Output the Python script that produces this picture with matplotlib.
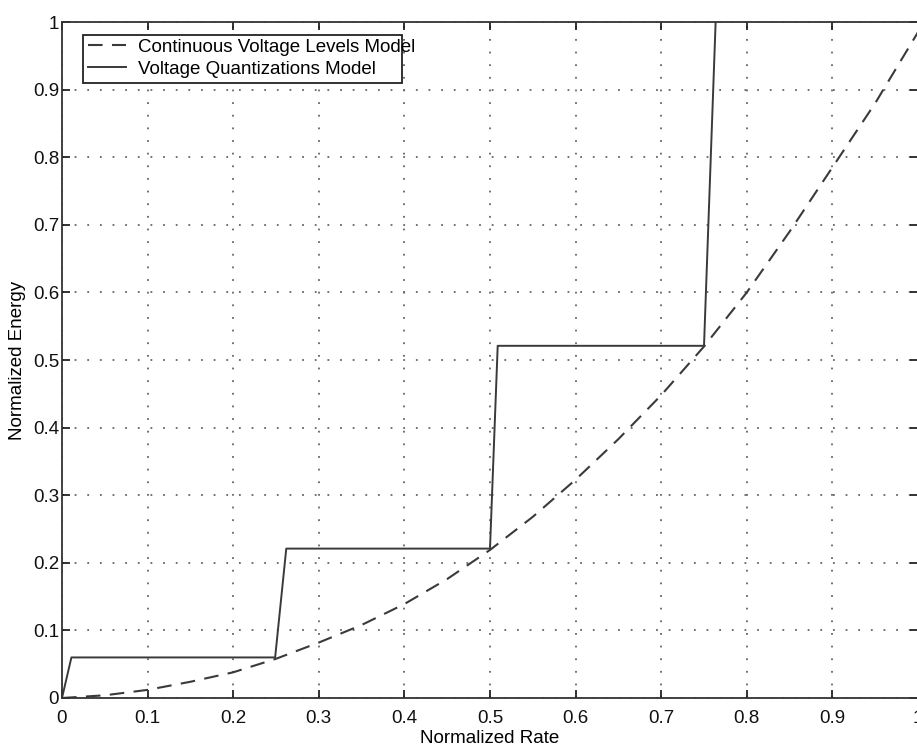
import matplotlib
matplotlib.use("Agg")
import matplotlib.pyplot as plt
from matplotlib.ticker import FuncFormatter
from matplotlib.patches import Rectangle

plt.rcParams['font.family'] = ['Liberation Sans', 'DejaVu Sans']

# Continuous voltage levels model (dashed curve)
rate_cont = [0, 0.05, 0.1, 0.15, 0.2, 0.25, 0.3, 0.35, 0.4, 0.45, 0.5,
             0.55, 0.6, 0.65, 0.7, 0.75, 0.8, 0.85, 0.9, 0.95, 1.0]
energy_cont = [0, 0.004, 0.012, 0.024, 0.038, 0.058, 0.082, 0.108, 0.139, 0.176, 0.219,
               0.268, 0.323, 0.383, 0.448, 0.52, 0.60, 0.69, 0.785, 0.88, 0.985]

# Voltage quantizations model (solid staircase)
rate_quant = [0, 0.011, 0.249, 0.262, 0.500, 0.509, 0.750, 0.765]
energy_quant = [0, 0.06, 0.06, 0.221, 0.221, 0.521, 0.521, 1.05]

x_ticks = [0, 0.1, 0.2, 0.3, 0.4, 0.5, 0.6, 0.7, 0.8, 0.9, 1.0]
y_ticks = [0, 0.1, 0.2, 0.3, 0.4, 0.5, 0.6, 0.7, 0.8, 0.9, 1.0]

fig = plt.figure(figsize=(9.17, 7.49), dpi=100)
ax = fig.add_axes([0.0676, 0.0681, 0.9335, 0.9025])

line_color = '#3a3a3a'
ax.plot(rate_cont, energy_cont, linestyle=(0, (7, 4.5)), color=line_color, linewidth=1.5,
        label='Continuous Voltage Levels Model')
ax.plot(rate_quant, energy_quant, linestyle='-', color=line_color, linewidth=1.4,
        label='Voltage Quantizations Model')

ax.set_xlim(0, 1)
ax.set_ylim(0, 1)
ax.set_xticks(x_ticks)
ax.set_yticks(y_ticks)
fmt = FuncFormatter(lambda v, p: '%g' % round(v, 2))
ax.xaxis.set_major_formatter(fmt)
ax.yaxis.set_major_formatter(fmt)

ax.grid(True, linestyle=(0, (1, 6)), color='#666666', linewidth=1.3)
ax.tick_params(direction='in', top=True, right=True, length=6, width=1.2,
               labelsize=13.5, colors='#111111')
ax.tick_params(axis='x', pad=9)
ax.tick_params(axis='y', pad=2)
for s in ax.spines.values():
    s.set_linewidth(1.3)
    s.set_color('#333333')

ax.set_xlabel('Normalized Rate', fontsize=13.5, labelpad=2)
ax.set_ylabel('Normalized Energy', fontsize=13.5, labelpad=5)

# legend box drawn separately (the printed original has the text running past it)
box = Rectangle((0.0245, 0.910), 0.373, 0.071, transform=ax.transAxes,
                facecolor='white', edgecolor='#222222', linewidth=1.3, zorder=4)
ax.add_patch(box)
leg = ax.legend(loc='upper left', bbox_to_anchor=(0.0245, 0.983), borderaxespad=0,
                fontsize=13.5, frameon=False, handlelength=2.0, handletextpad=0.65,
                borderpad=0.27, labelspacing=0.25)
leg.set_zorder(5)

fig.savefig('out.png', dpi=100)
